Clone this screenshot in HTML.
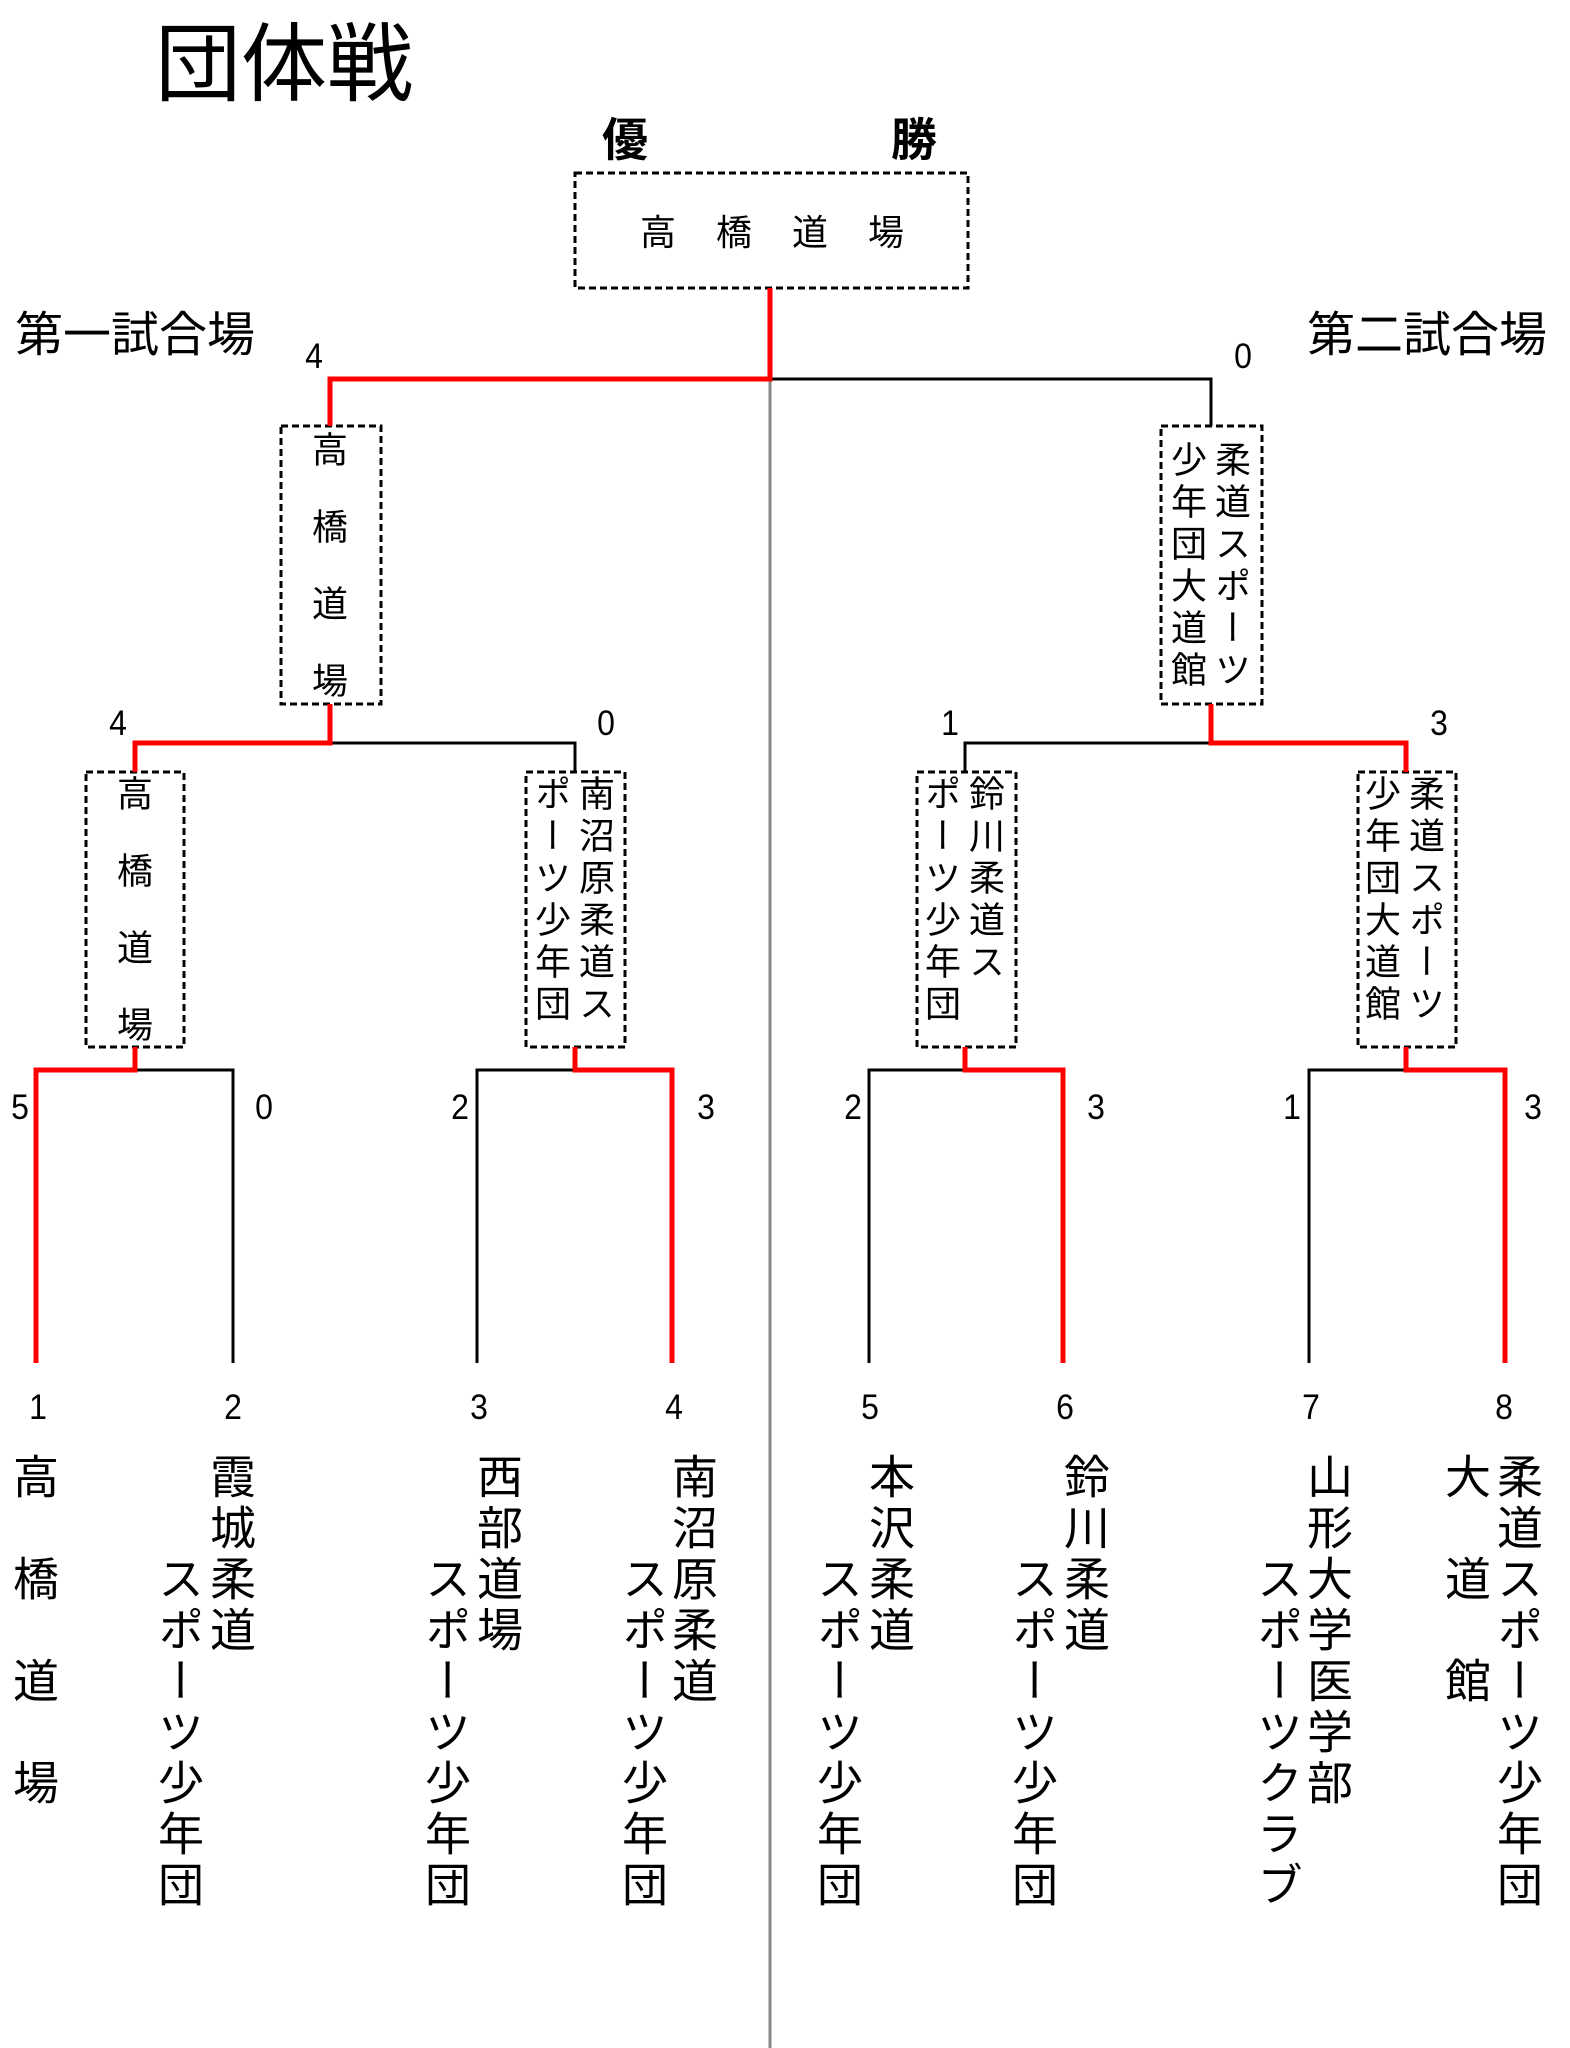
<!DOCTYPE html>
<html><head><meta charset="utf-8">
<style>
body{margin:0;background:#fff;}
#c{position:relative;width:1570px;height:2048px;overflow:hidden;font-family:"Liberation Sans","Noto Sans CJK JP",sans-serif;color:#000;}
.v{position:absolute;writing-mode:vertical-rl;font-family:"Noto Sans CJK JP",sans-serif;white-space:nowrap;}
.t{font-size:46px;line-height:46px;letter-spacing:5px;}
.b{font-size:36px;line-height:36px;letter-spacing:6px;}
.n{position:absolute;font-size:32px;line-height:32px;transform:translateX(-50%) scaleY(1.1);}
.h{position:absolute;font-family:"Noto Sans CJK JP",sans-serif;white-space:nowrap;line-height:1;}
svg{position:absolute;left:0;top:0;}
</style></head><body><div id="c">
<svg width="1570" height="2048">
<g fill="none" stroke="#000" stroke-width="3" stroke-dasharray="7,4">
<rect x="575" y="173" width="393" height="115"/>
<rect x="281" y="426" width="100" height="278"/>
<rect x="1161" y="426" width="101" height="278"/>
<rect x="86" y="772" width="98" height="275"/>
<rect x="526" y="772" width="99" height="275"/>
<rect x="917" y="772" width="99" height="275"/>
<rect x="1358" y="772" width="98" height="275"/>
</g>
<line x1="770" y1="379" x2="770" y2="2048" stroke="#888" stroke-width="3"/>
<g fill="none" stroke="#000" stroke-width="3">
<polyline points="770,379 1211,379 1211,426"/>
<polyline points="330,743 575,743 575,772"/>
<polyline points="965,772 965,743 1211,743"/>
<polyline points="135,1070 233,1070 233,1363"/>
<polyline points="575,1070 477,1070 477,1363"/>
<polyline points="965,1070 869,1070 869,1363"/>
<polyline points="1406,1070 1309,1070 1309,1363"/>
</g>
<g fill="none" stroke="#f00" stroke-width="5">
<polyline points="770,288 770,379 330,379 330,426"/>
<polyline points="330,704 330,743 135,743 135,772"/>
<polyline points="1211,704 1211,743 1406,743 1406,772"/>
<polyline points="135,1047 135,1070 36,1070 36,1363"/>
<polyline points="575,1047 575,1070 672,1070 672,1363"/>
<polyline points="965,1047 965,1070 1063,1070 1063,1363"/>
<polyline points="1406,1047 1406,1070 1505,1070 1505,1363"/>
</g>
</svg>

<div class="h" style="left:155px;top:14px;font-size:86px;">団体戦</div>
<div class="h" style="left:602px;top:114px;font-size:46px;font-weight:bold;">優</div>
<div class="h" style="left:891px;top:114px;font-size:46px;font-weight:bold;">勝</div>
<div class="h" style="left:640px;top:212px;font-size:36px;letter-spacing:40px;">高橋道場</div>
<div class="h" style="left:15px;top:306px;font-size:48px;">第一試合場</div>
<div class="h" style="left:1307px;top:306px;font-size:48px;">第二試合場</div>

<div class="n" style="left:314px;top:340px;">4</div>
<div class="n" style="left:1243px;top:340px;">0</div>
<div class="n" style="left:118px;top:707px;">4</div>
<div class="n" style="left:606px;top:707px;">0</div>
<div class="n" style="left:950px;top:707px;">1</div>
<div class="n" style="left:1439px;top:707px;">3</div>
<div class="n" style="left:20px;top:1091px;">5</div>
<div class="n" style="left:264px;top:1091px;">0</div>
<div class="n" style="left:460px;top:1091px;">2</div>
<div class="n" style="left:706px;top:1091px;">3</div>
<div class="n" style="left:853px;top:1091px;">2</div>
<div class="n" style="left:1096px;top:1091px;">3</div>
<div class="n" style="left:1292px;top:1091px;">1</div>
<div class="n" style="left:1533px;top:1091px;">3</div>
<div class="n" style="left:38px;top:1391px;">1</div>
<div class="n" style="left:233px;top:1391px;">2</div>
<div class="n" style="left:479px;top:1391px;">3</div>
<div class="n" style="left:674px;top:1391px;">4</div>
<div class="n" style="left:870px;top:1391px;">5</div>
<div class="n" style="left:1065px;top:1391px;">6</div>
<div class="n" style="left:1311px;top:1391px;">7</div>
<div class="n" style="left:1504px;top:1391px;">8</div>

<div class="v b" style="left:312px;top:431px;letter-spacing:41px;">高橋道場</div>
<div class="v b" style="left:1215px;top:441px;">柔道スポーツ</div>
<div class="v b" style="left:1171px;top:441px;">少年団大道館</div>
<div class="v b" style="left:117px;top:775px;letter-spacing:41px;">高橋道場</div>
<div class="v b" style="left:579px;top:775px;">南沼原柔道ス</div>
<div class="v b" style="left:535px;top:775px;">ポーツ少年団</div>
<div class="v b" style="left:969px;top:775px;">鈴川柔道ス</div>
<div class="v b" style="left:925px;top:775px;">ポーツ少年団</div>
<div class="v b" style="left:1409px;top:775px;">柔道スポーツ</div>
<div class="v b" style="left:1365px;top:775px;">少年団大道館</div>

<div class="v t" style="left:13px;top:1453px;letter-spacing:56px;">高橋道場</div>
<div class="v t" style="left:210px;top:1453px;">霞城柔道</div>
<div class="v t" style="left:158px;top:1555px;">スポーツ少年団</div>
<div class="v t" style="left:477px;top:1453px;">西部道場</div>
<div class="v t" style="left:425px;top:1555px;">スポーツ少年団</div>
<div class="v t" style="left:672px;top:1453px;">南沼原柔道</div>
<div class="v t" style="left:622px;top:1555px;">スポーツ少年団</div>
<div class="v t" style="left:869px;top:1453px;">本沢柔道</div>
<div class="v t" style="left:817px;top:1555px;">スポーツ少年団</div>
<div class="v t" style="left:1064px;top:1453px;">鈴川柔道</div>
<div class="v t" style="left:1012px;top:1555px;">スポーツ少年団</div>
<div class="v t" style="left:1307px;top:1453px;">山形大学医学部</div>
<div class="v t" style="left:1257px;top:1555px;">スポーツクラブ</div>
<div class="v t" style="left:1497px;top:1453px;">柔道スポーツ少年団</div>
<div class="v t" style="left:1445px;top:1453px;letter-spacing:56px;">大道館</div>
</div></body></html>
